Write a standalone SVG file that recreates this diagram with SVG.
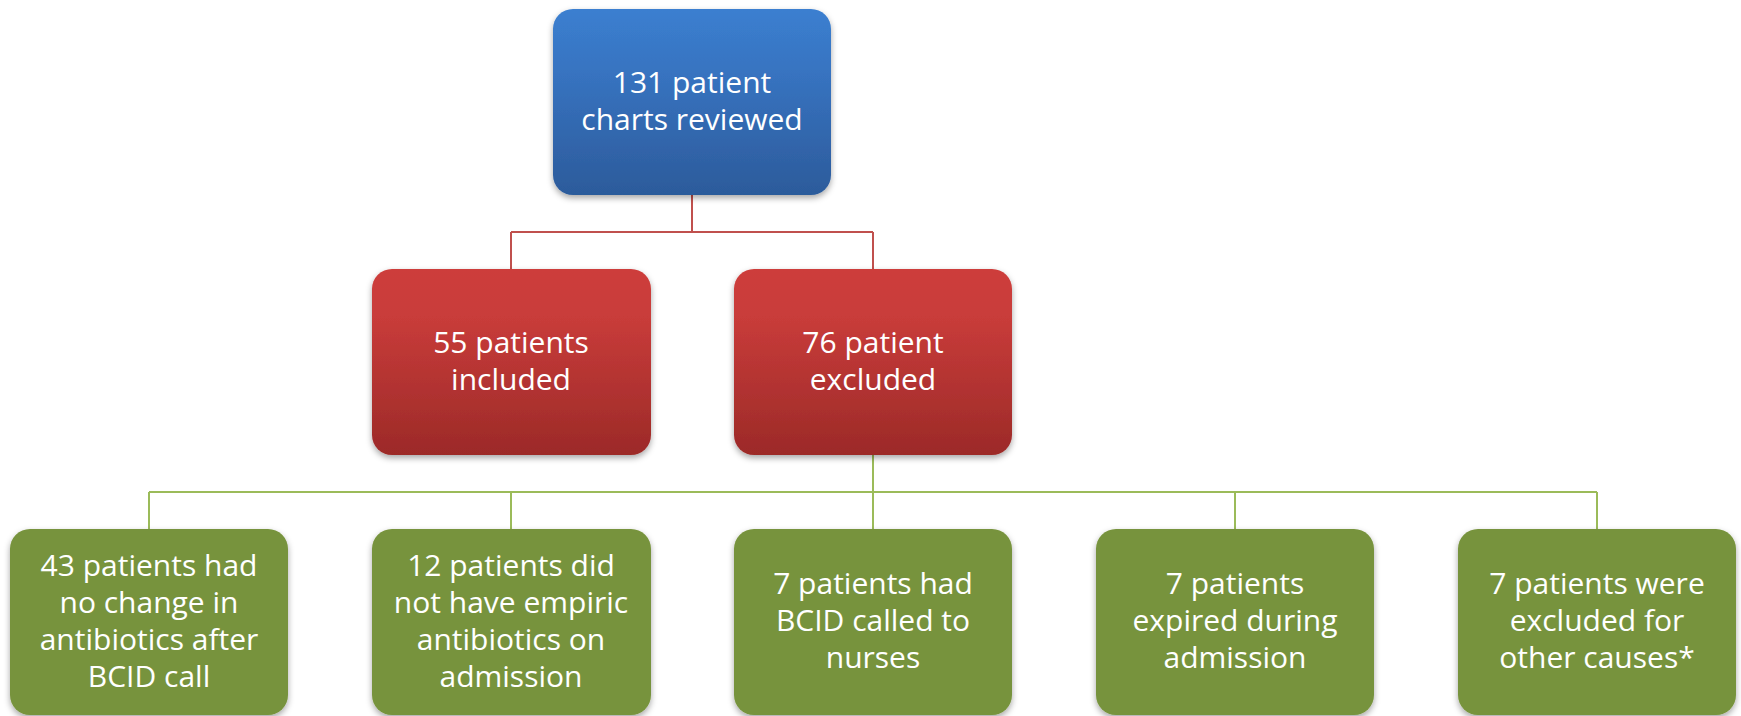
<svg xmlns="http://www.w3.org/2000/svg" width="1741" height="716" viewBox="0 0 1741 716">
  <defs>
    <linearGradient id="gBlue" x1="0" y1="0" x2="0" y2="1">
      <stop offset="0" stop-color="#3B7FD0"/>
      <stop offset="0.35" stop-color="#3773C0"/>
      <stop offset="1" stop-color="#2C5B9B"/>
    </linearGradient>
    <linearGradient id="gRed" x1="0" y1="0" x2="0" y2="1">
      <stop offset="0" stop-color="#CD3D3B"/>
      <stop offset="0.25" stop-color="#C93C3A"/>
      <stop offset="1" stop-color="#9C2A28"/>
    </linearGradient>
    <filter id="shadow" x="-10%" y="-10%" width="120%" height="125%">
      <feDropShadow dx="0" dy="3" stdDeviation="3" flood-color="#000" flood-opacity="0.35"/>
    </filter>
  </defs>
  <style>
    .box { filter: url(#shadow); }
    .blue { fill: url(#gBlue); }
    .red { fill: url(#gRed); }
    .green { fill: #77933C; }
    .lbl { font-family: "Open Sans", "Liberation Sans", sans-serif; font-size: 30px; fill: #FFFFFF; text-anchor: middle; }
    .wireRed { stroke: #C0504D; stroke-width: 2; fill: none; }
    .wireGreen { stroke: #9BBB59; stroke-width: 2; fill: none; }
  </style>
  <rect width="1741" height="716" fill="#FFFFFF"/>

  <g id="connectors">
    <path class="wireRed" d="M692 195 V232 M511 232 H873 M511 232 V269 M873 232 V269"/>
    <path class="wireGreen" d="M873 455 V492 M149 492 H1597 M149 492 V529 M511 492 V529 M873 492 V529 M1235 492 V529 M1597 492 V529"/>
  </g>

  <g id="reviewed">
    <rect class="box blue" x="553" y="9" width="278" height="186" rx="20"/>
    <text class="lbl" x="692" y="93">131 patient</text>
    <text class="lbl" x="692" y="130">charts reviewed</text>
  </g>

  <g id="included">
    <rect class="box red" x="372" y="269" width="279" height="186" rx="20"/>
    <text class="lbl" x="511" y="353">55 patients</text>
    <text class="lbl" x="511" y="390">included</text>
  </g>

  <g id="excluded">
    <rect class="box red" x="734" y="269" width="278" height="186" rx="20"/>
    <text class="lbl" x="873" y="353">76 patient</text>
    <text class="lbl" x="873" y="390">excluded</text>
  </g>

  <g id="no-change">
    <rect class="box green" x="10" y="529" width="278" height="186" rx="20"/>
    <text class="lbl" x="149" y="576">43 patients had</text>
    <text class="lbl" x="149" y="613">no change in</text>
    <text class="lbl" x="149" y="650">antibiotics after</text>
    <text class="lbl" x="149" y="687">BCID call</text>
  </g>

  <g id="no-empiric">
    <rect class="box green" x="372" y="529" width="279" height="186" rx="20"/>
    <text class="lbl" x="511" y="576">12 patients did</text>
    <text class="lbl" x="511" y="613">not have empiric</text>
    <text class="lbl" x="511" y="650">antibiotics on</text>
    <text class="lbl" x="511" y="687">admission</text>
  </g>

  <g id="nurses">
    <rect class="box green" x="734" y="529" width="278" height="186" rx="20"/>
    <text class="lbl" x="873" y="594">7 patients had</text>
    <text class="lbl" x="873" y="631">BCID called to</text>
    <text class="lbl" x="873" y="668">nurses</text>
  </g>

  <g id="expired">
    <rect class="box green" x="1096" y="529" width="278" height="186" rx="20"/>
    <text class="lbl" x="1235" y="594">7 patients</text>
    <text class="lbl" x="1235" y="631">expired during</text>
    <text class="lbl" x="1235" y="668">admission</text>
  </g>

  <g id="other-causes">
    <rect class="box green" x="1458" y="529" width="278" height="186" rx="20"/>
    <text class="lbl" x="1597" y="594">7 patients were</text>
    <text class="lbl" x="1597" y="631">excluded for</text>
    <text class="lbl" x="1597" y="668">other causes*</text>
  </g>
</svg>
